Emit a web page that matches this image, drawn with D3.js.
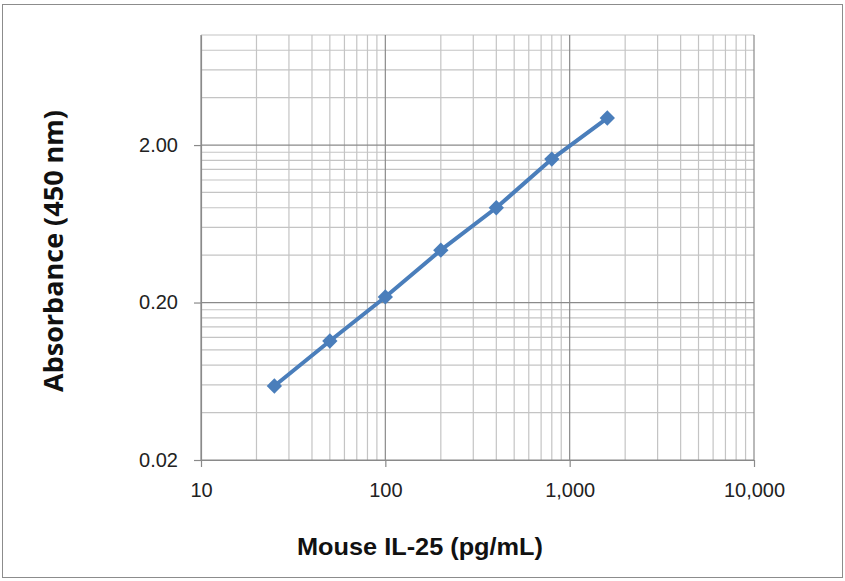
<!DOCTYPE html>
<html>
<head>
<meta charset="utf-8">
<script src="https://cdn.jsdelivr.net/npm/d3@7"></script>
<style>
  body { margin: 0; background: #fff; }
</style>
</head>
<body>
<div id="chart"></div>
<script>
const concentrations = [25, 50, 100, 200, 400, 800, 1600];
const absorbance = [0.059, 0.114, 0.217, 0.43, 0.80, 1.63, 2.97];
const xTicks = [10, 100, 1000, 10000];
const yTicks = [0.02, 0.2, 2];

const width = 845, height = 581;
const margin = {top: 35, right: 91, bottom: 121, left: 201};

const svg = d3.select("#chart").append("svg")
    .attr("width", width)
    .attr("height", height);

// outer frame
svg.append("rect")
    .attr("x", 2.5).attr("y", 4.5)
    .attr("width", width - 5).attr("height", height - 8)
    .attr("fill", "#fff")
    .attr("stroke", "#8c8c8c");

const x = d3.scaleLog()
    .domain([10, 10000])
    .range([margin.left, width - margin.right]);

const y = d3.scaleLog()
    .domain([0.02, 10])
    .range([height - margin.bottom, margin.top]);

// minor grid values
const xMinor = [];
xTicks.slice(0, -1).forEach(t => { for (let k = 2; k <= 9; k++) xMinor.push(t * k); });
const yMinor = [];
yTicks.forEach(t => { for (let k = 2; k <= 9; k++) { const v = t * k; if (v <= 10) yMinor.push(v); } });

const grid = svg.append("g");

grid.selectAll(".xminor").data(xMinor).join("line")
    .attr("x1", d => x(d)).attr("x2", d => x(d))
    .attr("y1", y.range()[0]).attr("y2", y.range()[1])
    .attr("stroke", "#c4c4c4").attr("stroke-width", 1.2);

grid.selectAll(".yminor").data(yMinor).join("line")
    .attr("x1", x.range()[0]).attr("x2", x.range()[1])
    .attr("y1", d => y(d)).attr("y2", d => y(d))
    .attr("stroke", "#c4c4c4").attr("stroke-width", 1.2);

grid.selectAll(".xmajor").data(xTicks).join("line")
    .attr("x1", d => x(d)).attr("x2", d => x(d))
    .attr("y1", y.range()[0]).attr("y2", y.range()[1])
    .attr("stroke", "#8a8a8a").attr("stroke-width", 1.2);

grid.selectAll(".ymajor").data(yTicks).join("line")
    .attr("x1", x.range()[0]).attr("x2", x.range()[1])
    .attr("y1", d => y(d)).attr("y2", d => y(d))
    .attr("stroke", "#8a8a8a").attr("stroke-width", 1.2);

// axes
const tickFont = "'Liberation Sans', Arial, sans-serif";

const xAxis = svg.append("g")
    .attr("transform", `translate(0,${height - margin.bottom})`)
    .call(d3.axisBottom(x).tickValues(xTicks).tickSizeInner(7).tickSizeOuter(0).tickPadding(16)
        .tickFormat(d3.format(",")));

const yAxis = svg.append("g")
    .attr("transform", `translate(${margin.left},0)`)
    .call(d3.axisLeft(y).tickValues(yTicks).tickSizeInner(7).tickSizeOuter(0).tickPadding(16)
        .tickFormat(d3.format(".2f")));

[xAxis, yAxis].forEach(a => {
  a.select(".domain").attr("stroke", "#8a8a8a").attr("stroke-width", 1.2);
  a.selectAll(".tick line").attr("stroke", "#8a8a8a").attr("stroke-width", 1.2);
  a.selectAll("text")
    .attr("fill", "#222")
    .attr("font-family", tickFont)
    .attr("font-size", 20);
});

// series
const pts = concentrations.map((c, i) => [c, absorbance[i]]);

svg.append("path")
    .datum(pts)
    .attr("fill", "none")
    .attr("stroke", "#4a7ebb")
    .attr("stroke-width", 4)
    .attr("d", d3.line().x(d => x(d[0])).y(d => y(d[1])));

svg.selectAll(".pt").data(pts).join("path")
    .attr("transform", d => `translate(${x(d[0])},${y(d[1])})`)
    .attr("d", d3.symbol(d3.symbolDiamond2, 150))
    .attr("fill", "#4a7ebb");

// titles
svg.append("text")
    .attr("x", 297).attr("y", 555)
    .attr("textLength", 246)
    .attr("lengthAdjust", "spacingAndGlyphs")
    .attr("font-family", "'Liberation Sans', Arial, sans-serif")
    .attr("font-weight", "bold")
    .attr("font-size", 24)
    .attr("fill", "#111")
    .text("Mouse IL-25 (pg/mL)");

svg.append("text")
    .attr("transform", "translate(63,392) rotate(-90)")
    .attr("textLength", 282)
    .attr("lengthAdjust", "spacingAndGlyphs")
    .attr("font-family", "'Open Sans', sans-serif")
    .attr("font-weight", "bold")
    .attr("font-size", 27)
    .attr("fill", "#111")
    .text("Absorbance (450 nm)");
</script>
</body>
</html>
